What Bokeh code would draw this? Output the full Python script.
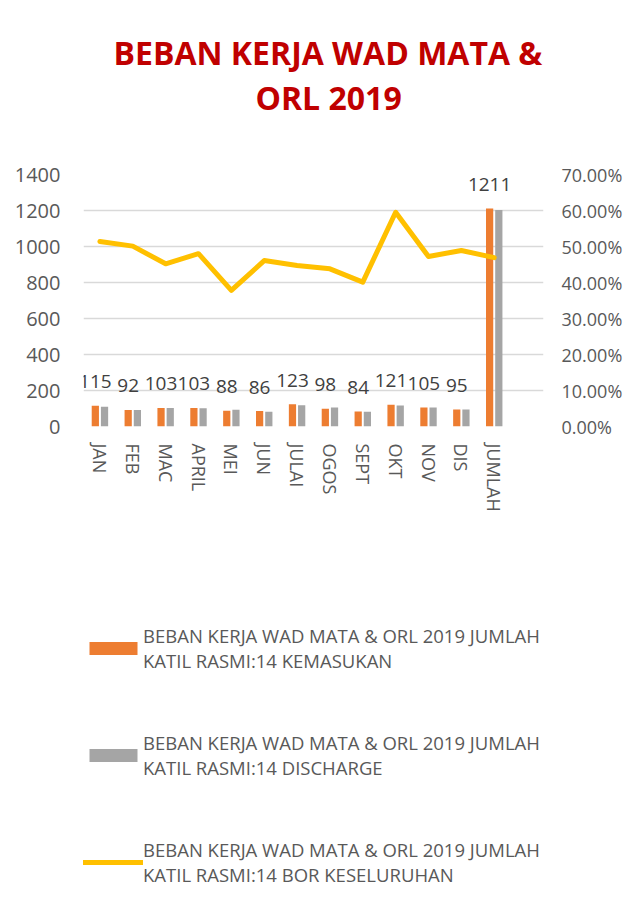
from bokeh.plotting import figure
from bokeh.layouts import column
from bokeh.models import (ColumnDataSource, FactorRange, Range1d, LinearAxis, FixedTicker,
                          NumeralTickFormatter, LabelSet, Legend, LegendItem, Title)
from bokeh.transform import dodge
from bokeh.core.properties import value
from bokeh.embed import file_html
from bokeh.resources import INLINE

# ---- data ----
categories = ["JAN", "FEB", "MAC", "APRIL", "MEI", "JUN", "JULAI", "OGOS", "SEPT", "OKT", "NOV", "DIS", "JUMLAH"]
kemasukan = [115, 92, 103, 103, 88, 86, 123, 98, 84, 121, 105, 95, 1211]
discharge = [110, 91, 103, 102, 93, 82, 118, 105, 82, 117, 105, 95, 1203]
bor = [0.514, 0.501, 0.452, 0.480, 0.378, 0.461, 0.447, 0.438, 0.401, 0.595, 0.472, 0.489, 0.469]
left_ticks = [0, 200, 400, 600, 800, 1000, 1200, 1400]
right_ticks = [0.0, 0.1, 0.2, 0.3, 0.4, 0.5, 0.6, 0.7]

title_lines = ["BEBAN KERJA WAD MATA &", "ORL 2019"]
series_names = [
    "BEBAN KERJA WAD MATA & ORL 2019 JUMLAH\nKATIL RASMI:14 KEMASUKAN",
    "BEBAN KERJA WAD MATA & ORL 2019 JUMLAH\nKATIL RASMI:14 DISCHARGE",
    "BEBAN KERJA WAD MATA & ORL 2019 JUMLAH\nKATIL RASMI:14 BOR KESELURUHAN",
]

ORANGE = "#ED7D31"
GRAY = "#A5A5A5"
YELLOW = "#FFC000"
TXT = "#595959"
FONT = "Open Sans"

src = ColumnDataSource(dict(cat=categories, kem=kemasukan, dis=discharge, bor=bor,
                            kem_lbl=[str(v) for v in kemasukan]))

x_factors = categories + [" "]
xr = FactorRange(*x_factors, range_padding=0)

# ---------------- chart ----------------
p = figure(x_range=xr, y_range=Range1d(0, 1400),
           width=625, height=560, output_backend="svg", toolbar_location=None,
           min_border_left=83, min_border_right=79, min_border_top=174, min_border_bottom=134)
p.outline_line_color = None
p.background_fill_color = "white"
p.border_fill_color = "white"
p.title.visible = False

p.extra_y_ranges = {"pct": Range1d(0, 0.7)}

# title: spacer nearest frame, then line 2, then line 1
spacer = Title(text=" ", text_font_size="1px", standoff=53)
t2 = Title(text=title_lines[1], align="left", text_color="#C00000", text_font=FONT,
           text_font_style="bold", text_font_size="32px", standoff=0, offset=172)
t1 = Title(text=title_lines[0], align="left", text_color="#C00000", text_font=FONT,
           text_font_style="bold", text_font_size="32px", standoff=0, offset=30)
p.add_layout(spacer, "above")
p.add_layout(t2, "above")
p.add_layout(t1, "above")

# bars
r_kem = p.vbar(x=dodge("cat", -0.14, range=xr), top="kem", width=0.22, source=src,
               fill_color=ORANGE, line_color=None)
r_dis = p.vbar(x=dodge("cat", 0.14, range=xr), top="dis", width=0.22, source=src,
               fill_color=GRAY, line_color=None)
# line on secondary axis
r_bor = p.line(x="cat", y="bor", source=src, y_range_name="pct", line_color=YELLOW,
               line_width=5, line_join="round", line_cap="round")

labels = LabelSet(x=dodge("cat", -0.14, range=xr), y="kem", text="kem_lbl", source=src,
                  y_offset=24, text_align="center", text_baseline="middle",
                  text_font=value(FONT), text_font_size="19px", text_color="#404040")
p.add_layout(labels)

# axes
p.yaxis.ticker = FixedTicker(ticks=left_ticks)
p.yaxis.axis_line_color = None
p.yaxis.major_tick_line_color = None
p.yaxis.major_tick_out = 0
p.yaxis.major_tick_in = 0
p.yaxis.minor_tick_line_color = None
p.yaxis.minor_tick_out = 0
p.yaxis.major_label_standoff = 23
p.yaxis.major_label_text_font = FONT
p.yaxis.major_label_text_font_size = "20px"
p.yaxis.major_label_text_color = TXT

p.xaxis.axis_line_color = None
p.xaxis.major_tick_line_color = None
p.xaxis.major_tick_out = 0
p.xaxis.major_tick_in = 0
p.xaxis.major_label_orientation = "vertical"
p.xaxis.major_label_standoff = 17
p.xaxis.major_label_text_font = FONT
p.xaxis.major_label_text_font_size = "18px"
p.xaxis.major_label_text_color = TXT

ax_r = LinearAxis(y_range_name="pct", ticker=FixedTicker(ticks=right_ticks),
                  formatter=NumeralTickFormatter(format="0.00%"))
ax_r.axis_line_color = None
ax_r.major_tick_line_color = None
ax_r.major_tick_out = 0
ax_r.major_tick_in = 0
ax_r.minor_tick_line_color = None
ax_r.minor_tick_out = 0
ax_r.major_label_standoff = 18
ax_r.major_label_text_font = FONT
ax_r.major_label_text_font_size = "18px"
ax_r.major_label_text_color = TXT
p.add_layout(ax_r, "right")

p.xgrid.grid_line_color = None
p.ygrid.grid_line_color = "#D9D9D9"
p.ygrid.grid_line_width = 1.5

# ---------------- legend panel (same series, drawn outside its visible range) ----------------
q = figure(x_range=xr, y_range=Range1d(-2, -1), width=625, height=346,
           output_backend="svg", toolbar_location=None,
           x_axis_location=None, y_axis_location=None,
           min_border_left=83, min_border_right=79, min_border_top=0, min_border_bottom=0)
q.grid.visible = False
q.outline_line_color = None
q.border_fill_color = "white"
q.background_fill_color = "white"
q.title.visible = False
q.extra_y_ranges = {"pct": Range1d(-2, -1)}

lk = q.vbar(x=dodge("cat", -0.14, range=xr), top="kem", width=0.22, source=src,
            fill_color=ORANGE, line_color=None)
ld = q.vbar(x=dodge("cat", 0.14, range=xr), top="dis", width=0.22, source=src,
            fill_color=GRAY, line_color=None)
lb = q.line(x="cat", y="bor", source=src, y_range_name="pct", line_color=YELLOW,
            line_width=5, line_cap="round")

legend = Legend(items=[LegendItem(label=series_names[0], renderers=[lk]),
                       LegendItem(label=series_names[1], renderers=[ld]),
                       LegendItem(label=series_names[2], renderers=[lb])],
                location="top_left", orientation="vertical")
legend.title = " "
legend.title_text_font_size = "10px"
legend.title_standoff = 52
legend.background_fill_color = "white"
legend.background_fill_alpha = 1.0
legend.border_line_color = None
legend.padding = 0
legend.margin = 0
legend.spacing = 57
legend.glyph_width = 60
legend.glyph_height = 16
legend.label_standoff = 0
legend.label_text_font = FONT
legend.label_text_font_size = "18.5px"
legend.label_text_color = TXT
legend.label_text_line_height = 1.65
q.add_layout(legend, "center")

layout = column(p, q, spacing=0)
open("out.html", "w").write(file_html(layout, INLINE))
